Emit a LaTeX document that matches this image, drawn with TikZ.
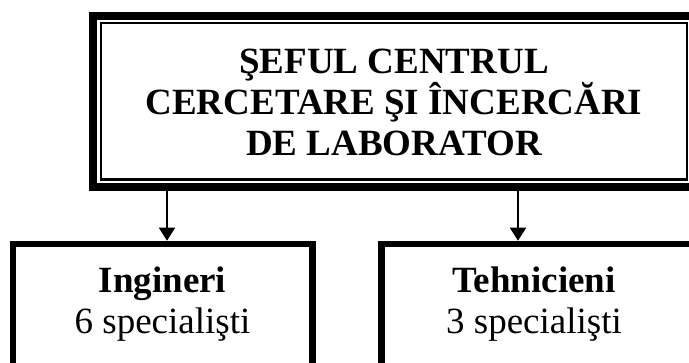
\documentclass[tikz,border=0pt]{standalone}
\usepackage{fontspec}
\setmainfont{Liberation Serif}
\usetikzlibrary{arrows.meta}

\begin{document}
\begin{tikzpicture}[x=1pt, y=-1pt,
        sefbox/.style={rectangle, draw, line width=8pt, minimum width=602pt, minimum height=171pt, align=center, font=\fontsize{37}{41}\selectfont\bfseries},
        frame/.style={rectangle, draw, line width=6.5pt, minimum height=160pt, anchor=north},
        txt/.style={align=center, inner sep=0pt, font=\fontsize{37}{41}\selectfont},
        arr/.style={line width=1.5pt, -{Triangle[width=16pt,length=13pt]}}
    ]
    \useasboundingbox (0,0) rectangle (689,363);
    \clip (0,0) rectangle (689,363);
    \node[sefbox] (sef) at (394,102) {ŞEFUL CENTRUL\\CERCETARE ŞI ÎNCERCĂRI\\DE LABORATOR};
    \draw[line width=2.5pt] ([shift={(12,10.3)}]sef.north west) rectangle ([shift={(-12,-12)}]sef.south east);
    \node[frame, minimum width=299.5pt] (ingbox) at (162.75,240.75) {};
    \node[frame, minimum width=313.5pt] (tehbox) at (538.25,240.75) {};
    \node[txt] (ing) at (162.5,304) {\textbf{Ingineri}\\6 specialişti};
    \node[txt] (teh) at (534,304) {\textbf{Tehnicieni}\\3 specialişti};
    \coordinate (ingx) at (167,0);
    \coordinate (tehx) at (518,0);
    \draw[arr] (sef.south -| ingx) -- (ingx |- ingbox.north);
    \draw[arr] (sef.south -| tehx) -- (tehx |- tehbox.north);
\end{tikzpicture}
\end{document}
